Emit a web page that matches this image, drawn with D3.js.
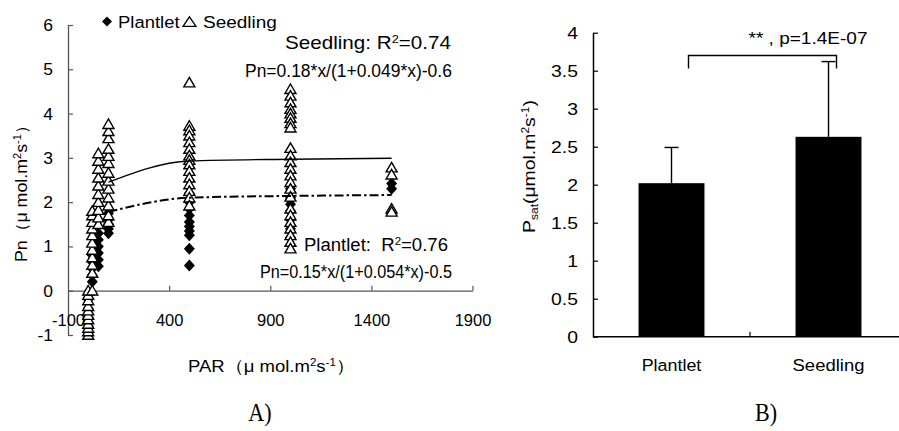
<!DOCTYPE html>
<html><head><meta charset="utf-8">
<script src="https://cdn.jsdelivr.net/npm/d3@7"></script>
<style>
html,body{margin:0;padding:0;background:#fff;}
svg{display:block;}
text{font-family:"Liberation Sans",Arial,Helvetica,sans-serif;fill:#000;white-space:pre;}
</style></head><body>
<svg id="chart" width="899" height="431"></svg>
<script>
// ---------------- data ----------------
const parLevels = [0, 20, 50, 100, 500, 1000, 1500];
const seedlingPn = [
  [-1.0,-0.92,-0.84,-0.75,-0.65,-0.55,-0.45,-0.35,-0.22,-0.1,0.0],
  [0.0,0.4,0.58,0.75,0.92,1.08,1.25,1.4,1.55,1.7,1.8],
  [1.5,1.65,1.82,2.0,2.18,2.37,2.55,2.75,2.93,3.1],
  [1.55,1.7,1.92,2.1,2.3,2.48,2.66,2.88,3.04,3.2,3.44,3.6,3.76],
  [4.7,3.72,3.62,3.5,3.35,3.2,3.05,2.95,2.85,2.7,2.55,2.4,2.25,2.1,1.92],
  [4.55,4.4,4.25,4.1,4.0,3.9,3.78,3.68,3.22,3.05,2.9,2.75,2.6,2.45,2.3,2.12,1.85,1.7,1.55,1.4,1.25,1.1,0.95],
  [2.78,2.62,1.85,1.78]
];
const plantletPn = [
  [-0.2,-0.4,-0.6,-0.8,-0.95],
  [0.2,0.35,0.5,0.65,0.8],
  [0.55,0.7,0.85,1.0,1.15,1.3],
  [1.3,1.4,1.5,1.6,1.75],
  [0.57,0.95,1.25,1.35,1.45,1.55,1.7,1.85,2.0,2.2],
  [1.2,1.4,1.6,1.8,1.95,2.1,2.3],
  [2.3,2.42]
];
const fitPAR = [100, 500, 1000, 1500];
const seedlingFit = [2.45, 2.93, 2.97, 2.99];
const plantletFit = [1.78, 2.10, 2.14, 2.16];
const xTicksA = [-100, 400, 900, 1400, 1900];
const yTicksA = [-1, 0, 1, 2, 3, 4, 5, 6];

const groups = ["Plantlet", "Seedling"];
const psatMean = [2.02, 2.63];
const psatSD = [0.47, 0.99];
const yTicksB = [0, 0.5, 1, 1.5, 2, 2.5, 3, 3.5, 4];
const sigLevel = [3.70, 3.53];
const sigLabel = "** , p=1.4E-07";

// ---------------- helpers ----------------
const svg = d3.select("#chart");

function label(parent, o) {
  const g = parent.append("g");
  const t = g.append("text").attr("text-anchor", o.anchor || "start")
    .style("font-size", o.size + "px");
  if (o.family) t.style("font-family", o.family);
  let shift = 0;
  o.parts.forEach(p => {
    const [str, kind] = Array.isArray(p) ? p : [p, null];
    const ts = t.append("tspan").text(str);
    let target = 0;
    if (kind === "sup") { ts.style("font-size", (o.size * 0.62) + "px"); target = -o.size * 0.36; }
    if (kind === "sub") { ts.style("font-size", (o.size * 0.62) + "px"); target = o.size * 0.2; }
    const dy = target - shift;
    if (dy) ts.attr("dy", dy);
    shift = target;
  });
  let k = o.k || 1;
  if (o.width) { k = o.width / t.node().getBBox().width; }
  g.attr("transform", `translate(${o.x},${o.y})` + (o.rotate ? ` rotate(${o.rotate})` : "") + ` scale(${k},1)`);
  return g;
}
const diamondPath = (w, h) => `M0,${-h/2}L${w/2},0L0,${h/2}L${-w/2},0Z`;
const trianglePath = (w, h) => `M0,${-h*0.55}L${w/2},${h*0.45}L${-w/2},${h*0.45}Z`;

// ---------------- panel A ----------------
const xA = d3.scaleLinear().domain([-100, 1900]).range([68, 472.5]);
const yA = d3.scaleLinear().domain([-1, 6]).range([335, 25]);
const axisColA = "#555";

const gyA = svg.append("g").attr("transform", `translate(${xA(-100)},0)`)
  .call(d3.axisLeft(yA).tickValues(yTicksA).tickSize(-5).tickSizeOuter(0).tickPadding(15).tickFormat(d => String(d)));
const gxA = svg.append("g").attr("transform", `translate(0,${yA(0)})`)
  .call(d3.axisBottom(xA).tickValues(xTicksA).tickSize(-5).tickSizeOuter(0).tickFormat(d => String(d)));
[gyA, gxA].forEach(g => {
  g.select(".domain").attr("stroke", axisColA).attr("stroke-width", 1.3);
  g.selectAll(".tick line").attr("stroke", axisColA).attr("stroke-width", 1.2);
  g.selectAll("text").attr("fill", "#000").style("font-size", "17px").style("font-family", '"Liberation Sans",Arial,sans-serif');
});
gyA.selectAll(".tick text").attr("x", null).attr("transform", "translate(-15,0) scale(1.03,1)");
gxA.selectAll(".tick text").attr("y", 35).attr("dy", 0).attr("transform", "scale(0.97,1)")
  .attr("x", d => xA(d) * (1 / 0.97 - 1) * 0);
gxA.selectAll(".tick").filter(d => d === -100).select("line").remove();

// points
const ptsP = [], ptsS = [];
parLevels.forEach((par, i) => {
  plantletPn[i].forEach(v => ptsP.push([par, v]));
  seedlingPn[i].forEach(v => ptsS.push([par, v]));
});
svg.append("g").selectAll("path").data(ptsP).join("path")
  .attr("d", diamondPath(11, 12))
  .attr("transform", d => `translate(${xA(d[0])},${yA(d[1])})`)
  .attr("fill", "#000");
svg.append("g").selectAll("path").data(ptsS).join("path")
  .attr("d", trianglePath(11, 9.5))
  .attr("transform", d => `translate(${xA(d[0])},${yA(d[1])})`)
  .attr("fill", "#fff").attr("stroke", "#000").attr("stroke-width", 1.4).attr("stroke-linejoin", "miter");

// fitted curves
const lineA = d3.line().x(d => xA(d[0])).y(d => yA(d[1])).curve(d3.curveMonotoneX);
svg.append("path").datum(fitPAR.map((p, i) => [p, seedlingFit[i]]))
  .attr("d", lineA).attr("fill", "none").attr("stroke", "#000").attr("stroke-width", 1.4);
svg.append("path").datum(fitPAR.map((p, i) => [p, plantletFit[i]]))
  .attr("d", lineA).attr("fill", "none").attr("stroke", "#000").attr("stroke-width", 2)
  .attr("stroke-dasharray", "9,3,2.5,3");

// legend
svg.append("path").attr("d", diamondPath(10, 10)).attr("transform", "translate(107,21.5)").attr("fill", "#000");
label(svg, {x: 118, y: 27.5, parts: ["Plantlet"], size: 16.5, width: 62});
svg.append("path").attr("d", trianglePath(13, 9.5)).attr("transform", "translate(189.5,22)")
  .attr("fill", "#fff").attr("stroke", "#000").attr("stroke-width", 1.3);
label(svg, {x: 203, y: 27.5, parts: ["Seedling"], size: 16.5, width: 74});

// equations
label(svg, {x: 285, y: 49, parts: ["Seedling: R", ["2", "sup"], "=0.74"], size: 18, width: 166});
label(svg, {x: 245, y: 77, parts: ["Pn=0.18*x/(1+0.049*x)-0.6"], size: 18, width: 207});
label(svg, {x: 304, y: 251, parts: ["Plantlet:  R", ["2", "sup"], "=0.76"], size: 18, width: 144});
label(svg, {x: 260, y: 278, parts: ["Pn=0.15*x/(1+0.054*x)-0.5"], size: 18, width: 192});

// axis titles A
label(svg, {x: 188, y: 372, parts: ["PAR（μ mol.m", ["2", "sup"], "s", ["-1", "sup"], "）"], size: 16.5, width: 167});
label(svg, {x: 27, y: 262, rotate: -90, parts: ["Pn（μ mol.m", ["2", "sup"], "s", ["-1", "sup"], "）"], size: 16.5, width: 147});

// ---------------- panel B ----------------
const xB = d3.scaleBand().domain(groups).range([593, 907]).padding(0);
const yB = d3.scaleLinear().domain([0, 4]).range([336.7, 32.7]);
const barW = xB.bandwidth() * 0.42;
const cx = g => xB(g) + xB.bandwidth() / 2;

const gyB = svg.append("g").attr("transform", `translate(${xB.range()[0]},0)`)
  .call(d3.axisLeft(yB).tickValues(yTicksB).tickSize(-5).tickSizeOuter(0).tickPadding(15).tickFormat(d => String(d)));
gyB.select(".domain").attr("stroke", "#000").attr("stroke-width", 1.5);
gyB.selectAll(".tick line").attr("stroke", "#000").attr("stroke-width", 1.2);
gyB.selectAll(".tick text").attr("x", null).attr("transform", "translate(-15,0) scale(1.14,1)")
  .style("font-size", "17px").style("font-family", '"Liberation Sans",Arial,sans-serif');

// x axis B
svg.append("line").attr("x1", xB.range()[0]).attr("x2", xB.range()[1])
  .attr("y1", yB(0)).attr("y2", yB(0)).attr("stroke", "#000").attr("stroke-width", 1.5);
svg.append("line").attr("x1", xB("Seedling")).attr("x2", xB("Seedling"))
  .attr("y1", yB(0)).attr("y2", yB(0) - 5).attr("stroke", "#000").attr("stroke-width", 1.2);

// bars
svg.append("g").selectAll("rect").data(groups).join("rect")
  .attr("x", g => cx(g) - barW / 2).attr("width", barW)
  .attr("y", (g, i) => yB(psatMean[i])).attr("height", (g, i) => yB(0) - yB(psatMean[i]))
  .attr("fill", "#000");
// error bars
const eb = svg.append("g").attr("stroke", "#000").attr("stroke-width", 1.4);
groups.forEach((g, i) => {
  eb.append("line").attr("x1", cx(g)).attr("x2", cx(g)).attr("y1", yB(psatMean[i])).attr("y2", yB(psatMean[i] + psatSD[i]));
  eb.append("line").attr("x1", cx(g) - 7).attr("x2", cx(g) + 7).attr("y1", yB(psatMean[i] + psatSD[i])).attr("y2", yB(psatMean[i] + psatSD[i]));
});
// significance bracket
const bx1 = cx("Plantlet") + 17, bx2 = cx("Seedling") + 8;
svg.append("path")
  .attr("d", `M${bx1},${yB(sigLevel[1])}V${yB(sigLevel[0])}H${bx2}V${yB(sigLevel[1])}`)
  .attr("fill", "none").attr("stroke", "#000").attr("stroke-width", 1.4);
label(svg, {x: (bx1 + bx2) / 2 + 45.5, y: 44, anchor: "middle", parts: [sigLabel], size: 17, width: 119});

// category labels
label(svg, {x: cx("Plantlet"), y: 371, anchor: "middle", parts: ["Plantlet"], size: 17, width: 60});
label(svg, {x: cx("Seedling"), y: 371, anchor: "middle", parts: ["Seedling"], size: 17, width: 72});

// y title B
label(svg, {x: 535, y: 233, rotate: -90, parts: ["P", ["sat", "sub"], "(μmol.m", ["2", "sup"], "s", ["-1", "sup"], ")"], size: 16.5, width: 133});

// panel letters
label(svg, {x: 260, y: 421, anchor: "middle", parts: ["A)"], size: 26, family: '"Liberation Serif","Times New Roman",serif', k: 0.85});
label(svg, {x: 766, y: 421, anchor: "middle", parts: ["B)"], size: 26, family: '"Liberation Serif","Times New Roman",serif', k: 0.85});
</script>
</body></html>
